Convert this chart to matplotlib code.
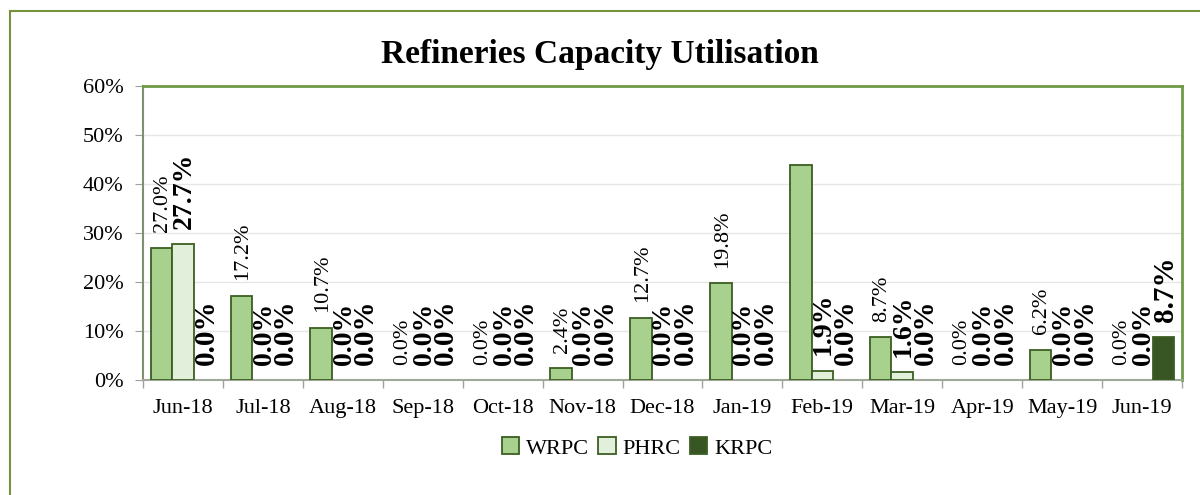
import numpy as np
import matplotlib
matplotlib.use("Agg")
import matplotlib.pyplot as plt
from matplotlib.patches import Rectangle
from matplotlib.ticker import FuncFormatter, MultipleLocator

plt.rcParams['font.family'] = ['Liberation Serif', 'DejaVu Serif']

# data (percent)
months = ["Jun-18", "Jul-18", "Aug-18", "Sep-18", "Oct-18", "Nov-18", "Dec-18",
          "Jan-19", "Feb-19", "Mar-19", "Apr-19", "May-19", "Jun-19"]
wrpc = [27.0, 17.2, 10.7, 0.0, 0.0, 2.4, 12.7, 19.8, 43.9, 8.7, 0.0, 6.2, 0.0]
phrc = [27.7, 0.0, 0.0, 0.0, 0.0, 0.0, 0.0, 0.0, 1.9, 1.6, 0.0, 0.0, 0.0]
krpc = [0.0, 0.0, 0.0, 0.0, 0.0, 0.0, 0.0, 0.0, 0.0, 0.0, 0.0, 0.0, 8.7]
# Feb-19 WRPC has no label in the original
wrpc_show = [True] * 8 + [False] + [True] * 4

series = [
    ("WRPC", wrpc, "#a9d18e", 16, "normal"),
    ("PHRC", phrc, "#e2efda", 20, "bold"),
    ("KRPC", krpc, "#375623", 21, "bold"),
]
edge = "#3b5e22"

fig = plt.figure(figsize=(12, 4.95), dpi=100)

# outer chart border
fig.patches.append(Rectangle((10 / 1200, -0.1), 1.1, 0.1 + (495 - 11) / 495,
                             transform=fig.transFigure, fill=False,
                             edgecolor="#76923c", linewidth=1.5))

ax = fig.add_axes([143 / 1200, 115 / 495, (1182 - 143) / 1200, (380 - 86) / 495])

x = np.arange(len(months))
w = 0.27
for i, (name, vals, col, fs, fw) in enumerate(series):
    pos = x + (i - 1) * w
    lws = [1.3 if v > 0 else 0 for v in vals]
    ax.bar(pos, vals, width=w, color=col, edgecolor=edge, linewidth=lws,
           label=name, zorder=3)
    for j, (px, v) in enumerate(zip(pos, vals)):
        if name == "WRPC" and not wrpc_show[j]:
            continue
        ax.annotate(f"{v:.1f}%", (px, v), xytext=(1, 11), textcoords="offset points",
                    rotation=90, ha="center", va="bottom", fontsize=fs,
                    fontweight=fw, color="black", zorder=4)

ax.set_xlim(-0.5, len(months) - 0.5)
ax.set_ylim(0, 60)
ax.yaxis.set_major_locator(MultipleLocator(10))
ax.yaxis.set_major_formatter(FuncFormatter(lambda v, p: f"{v:.0f}%"))
ax.grid(axis="y", color="#e6e6e6", linewidth=1, zorder=0)

ax.set_xticks(x)
ax.set_xticklabels(months)
ax.set_xticks(np.arange(-0.5, len(months)), minor=True)
ax.tick_params(axis="x", which="major", length=0, labelsize=16, pad=14)
ax.tick_params(axis="x", which="minor", length=6, color="#a0a0a0", width=1)
ax.tick_params(axis="y", length=6, color="#a0a0a0", labelsize=16, pad=8)

for s in ["top", "right"]:
    ax.spines[s].set_color("#6f9a45")
    ax.spines[s].set_linewidth(2)
ax.spines["left"].set_color("#7f9070")
ax.spines["left"].set_linewidth(1.5)
ax.spines["bottom"].set_color("#a0a89a")
ax.spines["bottom"].set_linewidth(1.5)

fig.text(0.5, (495 - 55) / 495, "Refineries Capacity Utilisation", ha="center",
         va="center", fontsize=24, fontweight="bold")

leg = fig.legend(loc="center", bbox_to_anchor=(637 / 1200, (495 - 448) / 495), ncol=3,
                 frameon=False, fontsize=16, handlelength=0.8, handleheight=0.8,
                 handletextpad=0.3, columnspacing=0.4)
for h in leg.legend_handles:
    h.set_linewidth(1.3)

fig.savefig("out.png", dpi=100)
